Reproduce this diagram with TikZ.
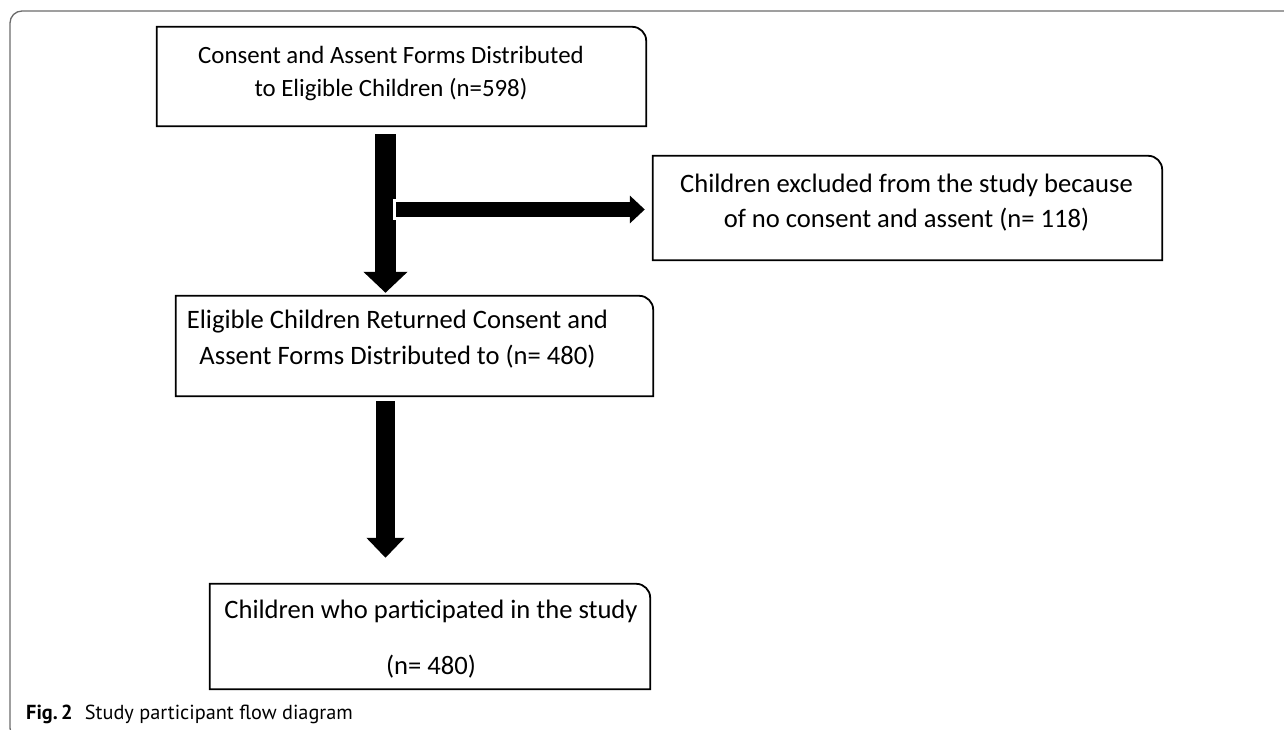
\documentclass[tikz,border=0pt]{standalone}
\usepackage{fontspec}
\setmainfont{Carlito}
\newfontfamily\capfont{PT Sans}
\usetikzlibrary{arrows.meta}

\tikzset{
  flowbox/.style={inner sep=0pt},
  flowtext/.style={inner sep=0pt, align=center, font=\fontsize{26.6}{35}\selectfont},
  boxline/.style={line width=1.8pt, line join=miter},
  outerframe/.style={draw=black!58, line width=1.3pt},
  downarrow/.style={line width=21pt, -{Triangle[length=21pt,width=43pt]}},
  sidearrow/.style={line width=15pt, -{Triangle[length=15pt,width=27pt]}},
}

% box outline, only the top right corner is rounded
\newcommand{\flowframe}[1]{%
  \draw[boxline] (#1.south west) -- (#1.north west) -- ([xshift=-14pt]#1.north east)
    .. controls ([xshift=-6.3pt]#1.north east) and ([yshift=-6.3pt]#1.north east)
    .. ([yshift=-14pt]#1.north east) -- (#1.south east) -- cycle;}

\begin{document}
\begin{tikzpicture}[x=1pt, y=-1pt, >=latex]
\useasboundingbox (0,0) rectangle (1284,730);
\clip (0,0) rectangle (1284,730);

% cadre de la figure
\draw[outerframe, rounded corners=12pt] (1300,11) -- (10,11) -- (10,740) -- (1300,740);

% boites
\node[flowbox, minimum width=489pt, minimum height=99pt] (consent) at (401.5,76.5) {};
\node[flowbox, minimum width=509pt, minimum height=104pt] (excluded) at (907.5,208) {};
\node[flowbox, minimum width=477pt, minimum height=100pt] (returned) at (414.5,346) {};
\node[flowbox, minimum width=440pt, minimum height=105pt] (participated) at (430,636.5) {};

\foreach \b in {consent,excluded,returned,participated}
  \flowframe{\b};

% textes
\node[flowtext, font=\fontsize{24.85}{33}\selectfont] (consent-txt) at ([xshift=-10.5pt,yshift=3pt]consent.center)
  {Consent and Assent Forms Distributed\\to Eligible Children (n=598)};
\node[flowtext] (excluded-txt) at ([xshift=-1pt,yshift=5.5pt]excluded.center)
  {Children excluded from the study because\\of no consent and assent (n= 118)};
\node[flowtext, font=\fontsize{26.6}{36}\selectfont] (returned-txt) at ([xshift=-17pt,yshift=6.5pt]returned.center)
  {Eligible Children Returned Consent and\\Assent Forms Distributed to (n= 480)};
\node[flowtext, font=\fontsize{26.6}{33}\selectfont] (participated-txt) at ([xshift=1pt,yshift=-2.7pt]participated.center)
  {Children who participated in the study\\[23pt](n= 480)};

% fleches
\coordinate (trunk) at (385.5,0);
\coordinate (split) at (396,209.5);
\draw[downarrow] ([yshift=-8pt]consent.south -| trunk) -- ([yshift=3pt]returned.north -| trunk);
\draw[white, line width=21pt] ([xshift=-3pt]split) -- (split);
\draw[sidearrow] (split) -- ([xshift=-8pt]excluded.west |- split);
\draw[downarrow, line width=19pt, -{Triangle[length=20pt,width=37pt]}]
  ([yshift=-5pt]returned.south -| trunk) -- ([yshift=26pt]participated.north -| trunk);

% legende
\node[anchor=base west, inner sep=0pt, font=\capfont\fontsize{20.3}{24}\selectfont] (caption) at (26,719)
  {\textbf{Fig.\,2}\hspace{0.6em}Study participant flow diagram};
\end{tikzpicture}
\end{document}
